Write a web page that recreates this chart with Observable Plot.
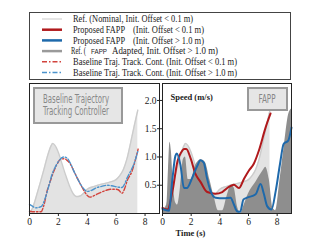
<!DOCTYPE html>
<html><head><meta charset="utf-8">
<script src="https://cdn.jsdelivr.net/npm/d3@7"></script>
<script src="https://cdn.jsdelivr.net/npm/@observablehq/plot@0.6"></script>
<style>
body{margin:0;background:#fff;}
#wrap{position:relative;width:320px;height:241px;overflow:hidden;background:#fff;}
#wrap > svg{position:absolute;left:0;top:0;}
</style></head><body><div id="wrap"></div>
<script>
// ---- data ----
const nominalT = [0,0.25,0.5,0.75,1,1.25,1.5,1.6,1.75,2,2.25,2.5,2.75,3,3.25,3.5,3.75,4,4.5,5,5.5,6,6.25,6.5,6.75,7,7.25,7.5];
const nominalV = [0.0,0.12,0.33,0.55,0.78,1.02,1.2,1.24,1.21,1.08,0.88,0.68,0.5,0.36,0.3,0.31,0.36,0.43,0.48,0.52,0.55,0.6,0.67,0.78,0.97,1.25,1.55,1.83];

const baseRedT = [0,0.4,0.8,1.0,1.22,1.45,1.69,1.9,2.15,2.4,2.6,2.84,3.05,3.3,3.65,4.0,4.2,4.5,4.91,5.3,5.6,5.9,6.14,6.4,6.6,6.76,7.1,7.3,7.52];
const baseRedV = [0.04,0.03,0.03,0.15,0.4,0.58,0.75,0.87,0.96,0.97,0.94,0.87,0.76,0.63,0.46,0.32,0.29,0.32,0.37,0.41,0.43,0.43,0.42,0.36,0.45,0.58,0.75,0.92,1.14];

const baseBlueT = [0,0.2,0.42,0.8,1.1,1.35,1.57,1.8,2.03,2.38,2.6,2.85,3.07,3.3,3.53,3.75,3.99,4.3,4.68,5.0,5.38,5.7,6.07,6.4,6.6,6.76,7.0,7.22,7.52];
const baseBlueV = [0.16,0.13,0.1,0.12,0.28,0.5,0.7,0.83,0.93,1.0,0.98,0.88,0.75,0.63,0.52,0.44,0.39,0.41,0.46,0.48,0.5,0.49,0.47,0.46,0.53,0.63,0.75,0.87,1.12];

const fappRedT = [0,0.35,0.7,1.05,1.3,1.51,1.66,1.97,2.3,2.65,3.12,3.7,4.17,4.63,4.98,5.33,5.68,6.03,6.37,6.72,7.19,7.54];
const fappRedV = [0.1,0.07,0.4,0.93,1.08,1.14,1.14,0.97,0.7,0.56,0.38,0.35,0.38,0.47,0.51,0.45,0.61,0.76,0.88,1.11,1.52,1.77];

const fappBlueT = [0,0.46,0.68,0.9,1.0,1.25,1.5,1.7,2.07,2.42,2.65,2.88,3.1,3.35,3.7,4.28,4.75,4.98,5.2,5.42,5.65,5.9,6.5,6.84,7.08,7.3,7.6,7.9,8.2,8.45,8.77,9.0];
const fappBlueV = [0.08,0.05,0.58,1.02,1.06,0.86,0.45,0.45,0.63,0.84,0.94,0.9,0.63,0.4,0.28,0.27,0.28,0.16,0.04,0.03,0.25,0.28,0.34,0.52,0.34,0.13,0.07,0.4,0.88,1.23,1.29,1.52];

const adaptT = [0,0.3,0.42,0.52,0.62,0.75,0.9,1.05,1.25,1.45,1.6,1.8,2.0,2.3,2.7,3.0,3.3,3.6,3.9,4.2,4.5,4.8,5.0,5.25,5.45,5.7,6.0,6.5,7.0,7.2,7.45,7.7,7.9,8.2,8.5,8.8,9.0];
const adaptV = [0.05,0.15,0.8,1.26,1.1,0.55,0.2,0.15,0.45,0.95,1.0,0.6,0.6,0.85,0.95,0.9,0.6,0.3,0.05,0.05,0.3,0.5,0.45,0.1,0.0,0.15,0.35,0.55,0.75,0.82,0.6,0.1,0.05,0.6,1.2,1.75,1.85];

const xTicks = [0,2,4,6,8];
const yTicks = [0.5,1.0,1.5,2.0];
const legendText = [
  ["Ref. (Nominal, Init. Offset < 0.1 m)"],
  ["Proposed FAPP", "(Init. Offset < 0.1 m)"],
  ["Proposed FAPP", "(Init. Offset > 1.0 m)"],
  ["Ref. (", "FAPP", "Adapted, Init. Offset > 1.0 m)"],
  ["Baseline Traj. Track. Cont. (Init. Offset < 0.1 m)"],
  ["Baseline Traj. Track. Cont. (Init. Offset > 1.0 m)"]
];
const panelLabels = [["Baseline Trajectory","Tracking Controller"],["FAPP"]];
const axisTitles = {y:"Speed (m/s)", x:"Time (s)"};

// ---- styles ----
const C = {
  nomFill:"#e3e3e3", nomLine:"#cccccc", adapt:"#8e8e8e",
  red:"#b0191c", blue:"#1e69ab", bRed:"#d2433c", bBlue:"#4b93cc"
};
const DASH = "5,2,1.5,2";
const tab = (T,V) => T.map((t,i)=>({t, v:V[i]}));
const nominal = tab(nominalT, nominalV);
const W = 320, H = 241, serif = "'Liberation Serif','Times New Roman',serif";

const wrap = document.getElementById("wrap");

// ---- legend ----
const leg = d3.select(wrap).append("svg").attr("width",W).attr("height",H);
leg.append("rect").attr("x",29.5).attr("y",12.5).attr("width",261).attr("height",67)
  .attr("fill","#fff").attr("stroke","#444").attr("stroke-width",1);
const legStyle = [
  {c:"#dcdcdc", w:1.5, d:null},{c:C.red, w:2.5, d:null},{c:C.blue, w:2.5, d:null},
  {c:"#9a9a9a", w:2.5, d:null},{c:C.bRed, w:1.4, d:DASH},{c:C.bBlue, w:1.4, d:DASH}
];
const legX = [[73],[73,133],[73,133],[71,91,112],[73],[73]];
const legL = [[120],[52,71],[52,71],[15,16,106],[164],[164]];
legendText.forEach((parts,i)=>{
  const y = 19 + i*10.7;
  const s = legStyle[i];
  leg.append("line").attr("x1",42).attr("x2",62).attr("y1",y).attr("y2",y)
    .attr("stroke",s.c).attr("stroke-width",s.w).attr("stroke-dasharray",s.d);
  parts.forEach((p,j)=>{
    const isSans = (i===3 && j===1);
    leg.append("text").attr("x",legX[i][j]).attr("y",y+3.2)
      .attr("font-family", isSans ? "'Liberation Sans',Arial,sans-serif" : serif)
      .attr("font-size", isSans ? 7 : 9.5).attr("fill","#222")
      .attr("textLength",legL[i][j]).attr("lengthAdjust","spacingAndGlyphs")
      .text(p);
  });
});

// ---- left panel ----
const common = {
  width:W, height:H, marginTop:83, marginBottom:28,
  x:{domain:[0,9]}, y:{domain:[0,2.3]},
  style:{background:"transparent", fontFamily:serif, fontSize:"9.5px", color:"#222", overflow:"visible"}
};
const left = Plot.plot({
  ...common, marginLeft:29, marginRight:161,
  marks:[
    Plot.areaY(nominal,{x:"t", y:"v", fill:C.nomFill, curve:"monotone-x"}),
    Plot.lineY(nominal,{x:"t", y:"v", stroke:C.nomLine, strokeWidth:1.4, curve:"monotone-x"}),
    Plot.lineY(tab(baseRedT,baseRedV),{x:"t", y:"v", stroke:C.bRed, strokeWidth:1.4, strokeDasharray:DASH, curve:"monotone-x"}),
    Plot.lineY(tab(baseBlueT,baseBlueV),{x:"t", y:"v", stroke:C.bBlue, strokeWidth:1.4, strokeDasharray:DASH, curve:"monotone-x"}),
    Plot.axisX({ticks:xTicks, tickSize:3, tickPadding:2, label:null}),
    Plot.axisY({ticks:[], label:null}),
    Plot.frame({stroke:"#222"})
  ]
});
wrap.appendChild(left);

// ---- right panel ----
const right = Plot.plot({
  ...common, marginLeft:162, marginRight:29,
  marks:[
    Plot.areaY(nominal,{x:"t", y:"v", fill:C.nomFill, curve:"monotone-x"}),
    Plot.lineY(nominal,{x:"t", y:"v", stroke:C.nomLine, strokeWidth:1.4, curve:"monotone-x"}),
    Plot.areaY(tab(adaptT,adaptV),{x:"t", y:"v", fill:C.adapt, curve:"monotone-x"}),
    Plot.lineY(tab(fappRedT,fappRedV),{x:"t", y:"v", stroke:C.red, strokeWidth:2, curve:"monotone-x"}),
    Plot.lineY(tab(fappBlueT,fappBlueV),{x:"t", y:"v", stroke:C.blue, strokeWidth:2, curve:"monotone-x"}),
    Plot.axisX({ticks:xTicks, tickSize:3, tickPadding:2, label:null}),
    Plot.axisY({ticks:yTicks, tickFormat:d3.format(".1f"), tickSize:5, tickPadding:1, label:null}),
    Plot.text([axisTitles.y],{frameAnchor:"top-left", dx:8, dy:10, textAnchor:"start", fontWeight:"bold", fontSize:8.5}),
    Plot.text([axisTitles.x],{frameAnchor:"bottom-left", dx:13, dy:22, textAnchor:"start", fontWeight:"bold", fontSize:8.5}),
    Plot.frame({stroke:"#222"})
  ]
});
wrap.appendChild(right);

// ---- panel label boxes ----
const ann = d3.select(wrap).append("svg").attr("width",W).attr("height",H);
const sansN = "'Liberation Sans Narrow','DejaVu Sans Condensed','Liberation Sans',sans-serif";
ann.append("rect").attr("x",34).attr("y",88).attr("width",88).attr("height",35)
  .attr("fill","#e6e6e6").attr("stroke","#999").attr("stroke-width",2);
panelLabels[0].forEach((s,i)=>{
  ann.append("text").attr("x",43).attr("y",102.5+i*12.5).attr("font-family",sansN)
    .attr("font-size",11.5).attr("fill","#888").attr("textLength",66).attr("lengthAdjust","spacingAndGlyphs").text(s);
});
ann.append("rect").attr("x",248).attr("y",88).attr("width",39).attr("height",22)
  .attr("fill","#e6e6e6").attr("stroke","#999").attr("stroke-width",2);
ann.append("text").attr("x",258.5).attr("y",102.8).attr("font-family",sansN)
  .attr("font-size",11.5).attr("fill","#888").attr("textLength",17).attr("lengthAdjust","spacingAndGlyphs").text(panelLabels[1][0]);
</script></body></html>
